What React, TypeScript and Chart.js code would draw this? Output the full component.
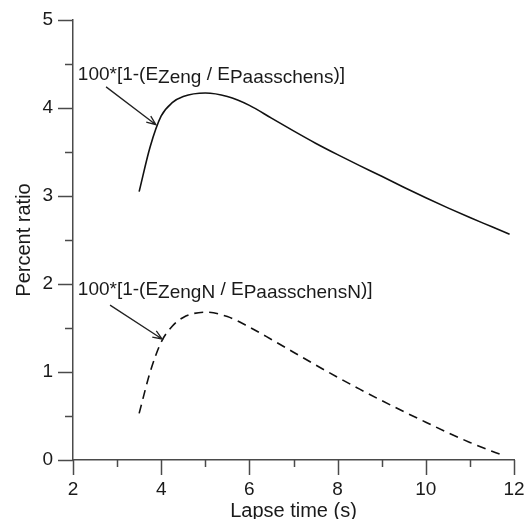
import React, { useEffect, useRef } from "react";
import { Chart, registerables } from "chart.js";

Chart.register(...registerables);

// ---- data ----
const SOLID_X = [3.5, 3.75, 4.0, 4.25, 4.5, 5.0, 5.5, 6.0, 6.5, 7.0, 7.5, 8.0, 8.5, 9.0, 9.5, 10.0, 10.5, 11.0, 11.5, 11.9];
const SOLID_Y = [3.05, 3.56, 3.91, 4.06, 4.13, 4.17, 4.13, 4.03, 3.885, 3.74, 3.6, 3.47, 3.345, 3.225, 3.1, 2.98, 2.865, 2.755, 2.65, 2.565];

const DASH_X = [3.5, 3.75, 4.0, 4.25, 4.5, 5.0, 5.5, 6.0, 6.5, 7.0, 7.5, 8.0, 8.5, 9.0, 9.5, 10.0, 10.5, 11.0, 11.5, 11.77];
const DASH_Y = [0.53, 1.0, 1.34, 1.52, 1.62, 1.68, 1.63, 1.51, 1.37, 1.225, 1.08, 0.94, 0.805, 0.675, 0.55, 0.43, 0.31, 0.2, 0.1, 0.05];

const X_TICKS = [2, 3, 4, 5, 6, 7, 8, 9, 10, 11, 12];
const X_LABELED = [2, 4, 6, 8, 10, 12];
const Y_TICKS = [0, 0.5, 1, 1.5, 2, 2.5, 3, 3.5, 4, 4.5, 5];
const Y_LABELED = [0, 1, 2, 3, 4, 5];

// annotation texts: segments [text, isSubscript]
const LABEL1: [string, boolean][] = [["100*[1-(E", false], ["Zeng", true], [" / E", false], ["Paasschens", true], [")]", false]];
const LABEL2: [string, boolean][] = [["100*[1-(E", false], ["ZengN", true], [" / E", false], ["PaasschensN", true], [")]", false]];
const LABEL1_POS = [2.11, 4.32];
const LABEL2_POS = [2.11, 1.875];
const ARROW1 = [2.75, 4.24, 3.88, 3.81];
const ARROW2 = [2.84, 1.76, 4.02, 1.375];

const AXIS_COLOR = "#4a4a4a";
const TEXT_COLOR = "#1a1a1a";
const FONT = "'Liberation Sans', Arial, sans-serif";

const decor = {
  id: "decor",
  afterDraw(chart: any) {
    const { ctx, chartArea, scales } = chart;
    const x = scales.x;
    const y = scales.y;
    ctx.save();
    ctx.strokeStyle = AXIS_COLOR;
    ctx.lineWidth = 1.5;
    for (const v of X_TICKS) {
      const px = Math.round(x.getPixelForValue(v)) + 0.5;
      const len = X_LABELED.includes(v) ? 15 : 7;
      ctx.beginPath();
      ctx.moveTo(px, chartArea.bottom);
      ctx.lineTo(px, chartArea.bottom + len);
      ctx.stroke();
    }
    for (const v of Y_TICKS) {
      const py = Math.round(y.getPixelForValue(v)) + 0.5;
      const len = Y_LABELED.includes(v) ? 15 : 8;
      ctx.beginPath();
      ctx.moveTo(chartArea.left, py);
      ctx.lineTo(chartArea.left - len, py);
      ctx.stroke();
    }

    // labels
    ctx.fillStyle = TEXT_COLOR;
    ctx.font = `19px ${FONT}`;
    ctx.textBaseline = "alphabetic";
    ctx.textAlign = "left";
    const drawLabel = (segs: [string, boolean][], pos: number[]) => {
      let px = x.getPixelForValue(pos[0]);
      const py = y.getPixelForValue(pos[1]);
      for (const [t, sub] of segs) {
        ctx.fillText(t, px, py + (sub ? 3 : 0));
        px += ctx.measureText(t).width;
      }
    };
    drawLabel(LABEL1, LABEL1_POS);
    drawLabel(LABEL2, LABEL2_POS);

    // arrows
    ctx.strokeStyle = "#222";
    ctx.lineWidth = 1.3;
    const drawArrow = (a: number[]) => {
      const x0 = x.getPixelForValue(a[0]);
      const y0 = y.getPixelForValue(a[1]);
      const x1 = x.getPixelForValue(a[2]);
      const y1 = y.getPixelForValue(a[3]);
      const ang = Math.atan2(y1 - y0, x1 - x0);
      ctx.beginPath();
      ctx.moveTo(x0, y0);
      ctx.lineTo(x1, y1);
      const h = 10;
      const spread = 0.38;
      ctx.moveTo(x1 - h * Math.cos(ang - spread), y1 - h * Math.sin(ang - spread));
      ctx.lineTo(x1, y1);
      ctx.lineTo(x1 - h * Math.cos(ang + spread), y1 - h * Math.sin(ang + spread));
      ctx.stroke();
    };
    drawArrow(ARROW1);
    drawArrow(ARROW2);
    ctx.restore();
  },
};

export default function App() {
  const ref = useRef<HTMLCanvasElement>(null);
  useEffect(() => {
    document.body.style.margin = "0";
    const canvas = ref.current!;
    const chart = new Chart(canvas, {
      type: "line",
      data: {
        datasets: [
          {
            data: SOLID_X.map((v, i) => ({ x: v, y: SOLID_Y[i] })),
            borderColor: "#111",
            borderWidth: 1.6,
            pointRadius: 0,
            cubicInterpolationMode: "monotone",
            fill: false,
          },
          {
            data: DASH_X.map((v, i) => ({ x: v, y: DASH_Y[i] })),
            borderColor: "#111",
            borderWidth: 1.6,
            borderDash: [9, 6],
            pointRadius: 0,
            cubicInterpolationMode: "monotone",
            fill: false,
          },
        ],
      },
      plugins: [decor],
      options: {
        responsive: false,
        animation: false,
        devicePixelRatio: 1,
        layout: { padding: { top: 20, right: 10, left: 0, bottom: 0 } },
        plugins: { legend: { display: false }, tooltip: { enabled: false }, title: { display: false } },
        scales: {
          x: {
            type: "linear",
            min: 2,
            max: 12,
            afterFit: (s: any) => {
              s.height = 59;
              s.paddingLeft = 0;
              s.paddingRight = 0;
            },
            afterBuildTicks: (s: any) => {
              s.ticks = X_TICKS.map((v) => ({ value: v }));
            },
            ticks: {
              autoSkip: false,
              maxRotation: 0,
              padding: 18,
              color: TEXT_COLOR,
              font: { family: FONT, size: 19 },
              callback: (v: any) => (X_LABELED.includes(Number(v)) ? String(v) : ""),
            },
            grid: { display: false, drawTicks: false },
            border: { display: true, color: AXIS_COLOR, width: 1.5 },
            title: {
              display: true,
              text: "Lapse time (s)",
              color: TEXT_COLOR,
              font: { family: FONT, size: 20 },
              padding: { top: 0, bottom: -4 },
            },
          },
          y: {
            type: "linear",
            min: 0,
            max: 5,
            afterFit: (s: any) => {
              s.width = 73;
              s.paddingTop = 0;
              s.paddingBottom = 0;
            },
            afterBuildTicks: (s: any) => {
              s.ticks = Y_TICKS.map((v) => ({ value: v }));
            },
            ticks: {
              autoSkip: false,
              padding: 20,
              color: TEXT_COLOR,
              font: { family: FONT, size: 19 },
              callback: (v: any) => (Y_LABELED.includes(Number(v)) ? String(v) : ""),
            },
            grid: { display: false, drawTicks: false },
            border: { display: true, color: AXIS_COLOR, width: 1.5 },
            title: {
              display: true,
              text: "Percent ratio",
              color: TEXT_COLOR,
              font: { family: FONT, size: 20 },
              padding: { top: 12, bottom: 0 },
            },
          },
        },
      },
    } as any);
    return () => chart.destroy();
  }, []);
  return (
    <div style={{ width: 524, height: 519, background: "#fff" }}>
      <canvas ref={ref} width={524} height={519} />
    </div>
  );
}
